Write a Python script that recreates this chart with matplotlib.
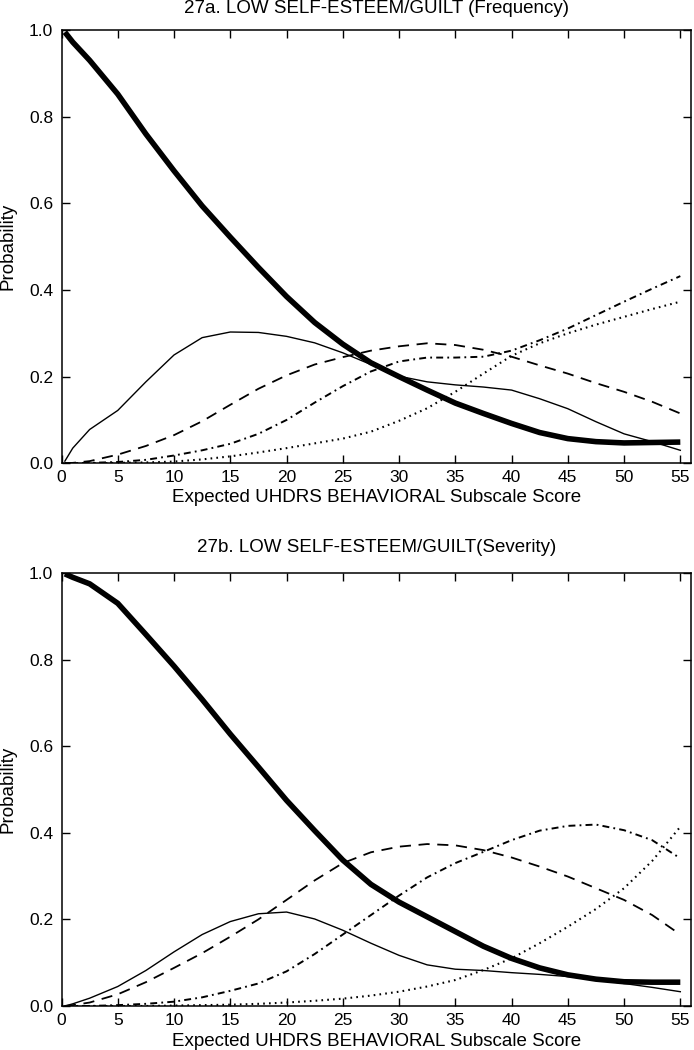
import matplotlib
matplotlib.use("Agg")
import matplotlib.pyplot as plt

plt.rcParams['font.family'] = ['Liberation Sans', 'DejaVu Sans']
plt.rcParams['lines.scale_dashes'] = False

# ---------------- data ----------------
x = [0.3, 1, 2.5, 5, 7.5, 10, 12.5, 15, 17.5, 20, 22.5, 25, 27.5,
     30, 32.5, 35, 37.5, 40, 42.5, 45, 47.5, 50, 52.5, 55]

# 27a  (Frequency)
a_thick = [0.995, 0.972, 0.930, 0.852, 0.760, 0.675, 0.594, 0.522, 0.452, 0.385, 0.325, 0.275, 0.232,
           0.200, 0.169, 0.139, 0.115, 0.092, 0.071, 0.057, 0.050, 0.047, 0.048, 0.049]
a_solid = [0.005, 0.035, 0.078, 0.122, 0.188, 0.250, 0.290, 0.303, 0.302, 0.293, 0.278, 0.255, 0.228,
           0.201, 0.188, 0.181, 0.176, 0.169, 0.149, 0.126, 0.096, 0.068, 0.050, 0.030]
a_dash = [0.0, 0.001, 0.005, 0.020, 0.040, 0.065, 0.097, 0.135, 0.172, 0.203, 0.228, 0.245, 0.260,
          0.270, 0.277, 0.273, 0.262, 0.246, 0.226, 0.207, 0.185, 0.165, 0.142, 0.115]
a_dashdot = [0.0, 0.0, 0.001, 0.003, 0.008, 0.018, 0.030, 0.045, 0.068, 0.100, 0.140, 0.178, 0.212,
             0.235, 0.244, 0.244, 0.246, 0.260, 0.284, 0.311, 0.342, 0.373, 0.403, 0.432]
a_dot = [0.0, 0.0, 0.0, 0.001, 0.002, 0.004, 0.009, 0.016, 0.025, 0.035, 0.046, 0.057, 0.073,
         0.098, 0.127, 0.165, 0.207, 0.248, 0.277, 0.300, 0.320, 0.338, 0.356, 0.373]

# 27b  (Severity)
b_thick = [0.998, 0.99, 0.975, 0.930, 0.858, 0.785, 0.708, 0.628, 0.552, 0.475, 0.405, 0.337, 0.281,
           0.240, 0.206, 0.172, 0.138, 0.110, 0.088, 0.072, 0.062, 0.056, 0.055, 0.055]
b_solid = [0.0, 0.005, 0.018, 0.045, 0.082, 0.125, 0.165, 0.195, 0.213, 0.217, 0.201, 0.175, 0.145,
           0.117, 0.095, 0.085, 0.082, 0.077, 0.073, 0.068, 0.061, 0.052, 0.043, 0.033]
b_dash = [0.0, 0.002, 0.008, 0.027, 0.055, 0.088, 0.122, 0.160, 0.200, 0.245, 0.290, 0.330, 0.355,
          0.368, 0.374, 0.371, 0.360, 0.343, 0.322, 0.299, 0.272, 0.245, 0.210, 0.165]
b_dashdot = [0.0, 0.0, 0.0, 0.002, 0.005, 0.010, 0.020, 0.035, 0.052, 0.080, 0.120, 0.165, 0.210,
             0.255, 0.297, 0.330, 0.356, 0.383, 0.405, 0.416, 0.419, 0.406, 0.383, 0.341]
b_dot = [0.0, 0.0, 0.0, 0.0, 0.0, 0.001, 0.002, 0.003, 0.005, 0.008, 0.012, 0.017, 0.024,
         0.033, 0.045, 0.060, 0.083, 0.110, 0.145, 0.183, 0.224, 0.272, 0.335, 0.414]

titles = ["27a. LOW SELF-ESTEEM/GUILT (Frequency)", "27b. LOW SELF-ESTEEM/GUILT(Severity)"]
xlabel = "Expected UHDRS BEHAVIORAL Subscale Score"
ylabel = "Probability"
xticks = [0, 5, 10, 15, 20, 25, 30, 35, 40, 45, 50, 55]
yticks = [0.0, 0.2, 0.4, 0.6, 0.8, 1.0]

# ---------------- figure ----------------
W, H = 694, 1050
fig = plt.figure(figsize=(W / 100, H / 100), dpi=100)

left_px, right_px = 61.5, 691
panels = [
    dict(top=30, bottom=463.3, title_y=8.5, xlabel_y=498,
         series=(a_thick, a_solid, a_dash, a_dashdot, a_dot)),
    dict(top=573, bottom=1006, title_y=548, xlabel_y=1041,
         series=(b_thick, b_solid, b_dash, b_dashdot, b_dot)),
]

for i, p in enumerate(panels):
    ax = fig.add_axes([left_px / W, 1 - p['bottom'] / H,
                       (right_px - left_px) / W, (p['bottom'] - p['top']) / H])
    thick, solid, dash, dashdot, dot = p['series']
    ax.plot(x, dot, color='black', lw=1.5, dashes=(1.2, 3.0), dash_capstyle='butt')
    ax.plot(x, dashdot, color='black', lw=1.4, dashes=(5, 3, 1.3, 3), dash_capstyle='butt')
    ax.plot(x, dash, color='black', lw=1.3, dashes=(8, 5.5), dash_capstyle='butt')
    ax.plot(x, solid, color='black', lw=1.0)
    ax.plot(x, thick, color='black', lw=4.0, solid_capstyle='butt')

    ax.set_xlim(0, 55.95)
    ax.set_ylim(0, 1.0)
    ax.set_xticks(xticks)
    ax.set_yticks(yticks)
    ax.set_yticklabels([f"{v:.1f}" for v in yticks])
    ax.tick_params(direction='in', top=True, right=True, length=6, width=1.0,
                   labelsize=12.5, pad=6)
    ax.tick_params(axis='x', pad=5)
    for s in ax.spines.values():
        s.set_linewidth(1.1)

    fig.text((left_px + right_px) / 2 / W, 1 - p['title_y'] / H, titles[i],
             ha='center', va='center', fontsize=13.5)
    fig.text((left_px + right_px) / 2 / W, 1 - p['xlabel_y'] / H, xlabel,
             ha='center', va='center', fontsize=13.5)
    fig.text(8.5 / W, 1 - (p['top'] + p['bottom']) / 2 / H, ylabel,
             ha='center', va='center', rotation=90, fontsize=13.5)

fig.savefig("out.png", dpi=100)
